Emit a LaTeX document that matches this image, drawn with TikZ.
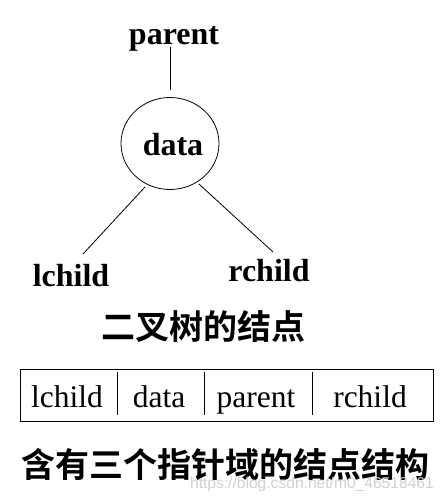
\documentclass[tikz,border=0pt]{standalone}
\usepackage{fontspec}
\usetikzlibrary{shapes.geometric}
\setmainfont{Liberation Serif}
\newfontfamily\cjkbold[BoldFont=Noto Sans CJK SC Bold]{Noto Sans CJK SC}
\newfontfamily\wmfont{Liberation Sans}
\begin{document}
\begin{tikzpicture}[x=1pt,y=-1pt,
  treelabel/.style={inner sep=0pt,anchor=base,font=\fontsize{32}{32}\selectfont\bfseries},
  cell/.style={inner sep=0pt,anchor=base,font=\fontsize{31.5}{32}\selectfont},
  cjktitle/.style={inner sep=0pt,font=\cjkbold\bfseries\fontsize{34}{34}\selectfont},
  edge/.style={draw=black,line width=0.8pt}]
\useasboundingbox (0,0) rectangle (442,503);
\fill[white] (0,0) rectangle (442,503);
% tree
\node[treelabel] (parent) at (174,45) {parent};
\node[draw,ellipse,minimum width=98pt,minimum height=92pt,inner sep=0pt,line width=0.8pt] (circ) at (170,143.5) {};
\node[treelabel] (data) at (173,155) {data};
\node[treelabel] (lchild) at (71,286) {lchild};
\node[treelabel] (rchild) at (269,281) {rchild};
\coordinate (ptop) at (170,47);
\coordinate (pbot) at (170,90);
\coordinate (l1) at (145,187);
\coordinate (l2) at (83,254);
\coordinate (r1) at (199,184);
\coordinate (r2) at (273,252);
\draw[edge] (ptop) -- (pbot);
\draw[edge] (l1) -- (l2);
\draw[edge] (r1) -- (r2);
\node[cjktitle] (title1) at (203,327) {二叉树的结点};
% table
\node[draw,line width=0.8pt,minimum width=412.5pt,minimum height=52pt,inner sep=0pt] (tbl) at (226.85,395) {};
\coordinate (d1t) at (117,372); \coordinate (d1b) at (117,415);
\coordinate (d2t) at (204,372); \coordinate (d2b) at (204,415);
\coordinate (d3t) at (312,372); \coordinate (d3b) at (312,415);
\draw[edge] (d1t) -- (d1b);
\draw[edge] (d2t) -- (d2b);
\draw[edge] (d3t) -- (d3b);
\node[cell] (c1) at (67,407) {lchild};
\node[cell] (c2) at (159,407) {data};
\node[cell] (c3) at (256,407) {parent};
\node[cell] (c4) at (370,407) {rchild};
\node[cjktitle] (title2) at (225,465) {含有三个指针域的结点结构};
\node[inner sep=0pt,text=black!18,font=\wmfont\fontsize{15.6}{16}\selectfont,anchor=base east] (wm) at (434,488) {https://blog.csdn.net/m0\_46518461};
\end{tikzpicture}
\end{document}
